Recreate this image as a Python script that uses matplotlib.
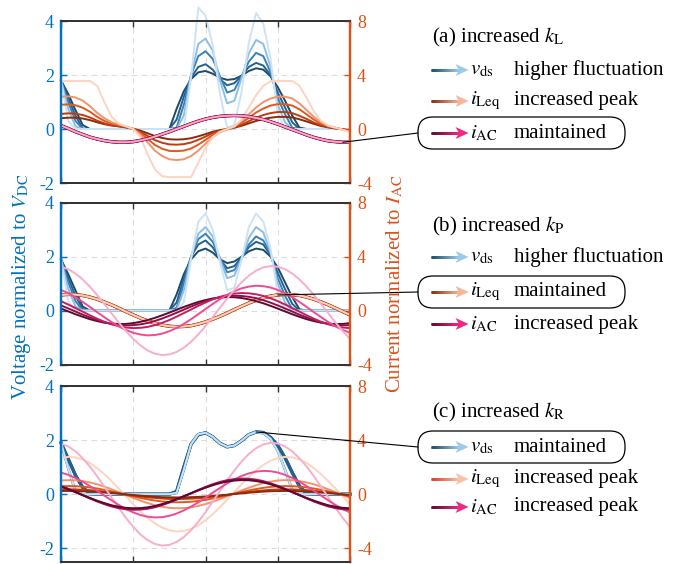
import numpy as np
import matplotlib.pyplot as plt
from matplotlib.collections import LineCollection
from matplotlib.patches import FancyBboxPatch, ConnectionPatch, Polygon
from matplotlib.colors import LinearSegmentedColormap

plt.rcParams['font.family'] = ['Liberation Serif', 'DejaVu Serif']
plt.rcParams['mathtext.fontset'] = 'stix'
plt.rcParams['axes.unicode_minus'] = False

# one window of the waveforms, sampled every 1/40 of the window
t = np.linspace(0, 1, 41)

# ---- (a) increased k_L ------------------------------------------------
# v_ds, normalised to V_DC (dark -> light)
vds_a = [
    [1.8, 1.3, 0.7, 0.15, 0, 0, 0, 0, 0, 0, 0, 0, 0, 0, 0, 0,
     0.75, 1.4, 1.85, 2.1, 2.15, 2.05, 1.9, 1.82, 1.85, 1.98, 2.15, 2.25, 2.2, 1.95, 1.55, 1.05, 0.5, 0.05,
     0, 0, 0, 0, 0, 0, 0],
    [1.8, 1.15, 0.5, 0.02, 0, 0, 0, 0, 0, 0, 0, 0, 0, 0, 0, 0,
     0.35, 1.2, 1.9, 2.3, 2.4, 2.2, 1.85, 1.62, 1.7, 1.98, 2.3, 2.45, 2.35, 2.0, 1.35, 0.8, 0.25, 0,
     0, 0, 0, 0, 0, 0, 0],
    [1.8, 1.0, 0.3, 0, 0, 0, 0, 0, 0, 0, 0, 0, 0, 0, 0, 0,
     0.05, 0.9, 2.0, 2.7, 2.88, 2.6, 1.95, 1.35, 1.45, 1.95, 2.5, 2.82, 2.7, 2.1, 1.15, 0.55, 0.05, 0,
     0, 0, 0, 0, 0, 0, 0],
    [1.8, 0.75, 0.1, 0, 0, 0, 0, 0, 0, 0, 0, 0, 0, 0, 0, 0,
     0, 0.5, 2.0, 3.15, 3.35, 2.9, 1.8, 0.95, 1.05, 1.9, 2.8, 3.3, 3.15, 2.3, 0.9, 0.25, 0, 0,
     0, 0, 0, 0, 0, 0, 0],
    [1.8, 0.3, 0, 0, 0, 0, 0, 0, 0, 0, 0, 0, 0, 0, 0, 0,
     0, 0.05, 1.9, 4.5, 4.2, 3.1, 1.3, 0.05, 0.15, 1.4, 3.2, 4.3, 3.9, 2.6, 0.6, 0, 0, 0,
     0, 0, 0, 0, 0, 0, 0],
]
# i_Leq, normalised to I_AC
ileq_a = [
    [0.8, 0.84, 0.84, 0.78, 0.66, 0.5, 0.36, 0.26, 0.2, 0.12, 0.02, -0.12, -0.32, -0.52, -0.66, -0.76, -0.78,
     -0.76, -0.68, -0.54, -0.38, -0.2, -0.08, 0.0, 0.1, 0.24, 0.42, 0.6, 0.74, 0.84, 0.9, 0.9, 0.86, 0.72,
     0.56, 0.38, 0.22, 0.12, 0.04, -0.02, -0.1],
    [1.12, 1.16, 1.14, 1.04, 0.86, 0.62, 0.42, 0.28, 0.2, 0.12, 0.0, -0.22, -0.52, -0.82, -1.02, -1.14, -1.16,
     -1.12, -1.0, -0.8, -0.56, -0.3, -0.12, -0.02, 0.12, 0.32, 0.58, 0.84, 1.04, 1.18, 1.26, 1.26, 1.18, 0.98,
     0.74, 0.48, 0.28, 0.14, 0.06, -0.02, -0.12],
    [1.8, 1.82, 1.76, 1.58, 1.28, 0.9, 0.6, 0.4, 0.28, 0.16, 0.0, -0.3, -0.74, -1.18, -1.46, -1.62, -1.64,
     -1.6, -1.44, -1.16, -0.8, -0.44, -0.18, -0.02, 0.16, 0.46, 0.84, 1.22, 1.52, 1.74, 1.84, 1.84, 1.74, 1.46,
     1.08, 0.7, 0.38, 0.18, 0.08, -0.04, -0.16],
    [2.4, 2.42, 2.34, 2.1, 1.7, 1.2, 0.8, 0.5, 0.34, 0.2, 0.0, -0.4, -1.0, -1.6, -2.0, -2.24, -2.3,
     -2.24, -2.0, -1.6, -1.1, -0.6, -0.24, -0.04, 0.2, 0.6, 1.1, 1.6, 2.0, 2.26, 2.4, 2.4, 2.26, 1.9,
     1.4, 0.9, 0.5, 0.24, 0.1, -0.06, -0.2],
    [3.56, 3.56, 3.56, 3.56, 3.56, 3.2, 2.0, 0.9, 0.4, 0.2, 0.0, -0.6, -1.9, -3.0, -3.5, -3.56, -3.56,
     -3.56, -3.56, -2.5, -1.4, -0.6, -0.2, 0.0, 0.2, 0.7, 1.6, 2.5, 3.2, 3.54, 3.56, 3.56, 3.56, 3.2,
     2.3, 1.3, 0.6, 0.24, 0.1, -0.06, -0.24],
]
# i_AC, the same for all five cases
iac_a = [0.26, 0.04, -0.2, -0.4, -0.6, -0.74, -0.86, -0.94, -0.98, -0.98, -0.94, -0.84, -0.72, -0.56,
         -0.38, -0.2, 0.0, 0.2, 0.4, 0.58, 0.74, 0.86, 0.94, 0.98, 1.0, 0.98, 0.92, 0.82, 0.7, 0.54,
         0.36, 0.16, -0.04, -0.24, -0.44, -0.62, -0.76, -0.88, -0.94, -0.98, -0.98]

# ---- (b) increased k_P ------------------------------------------------
vds_b = [
    [1.9, 1.35, 0.75, 0.15, 0, 0, 0, 0, 0, 0, 0, 0, 0, 0, 0, 0,
     0.6, 1.35, 1.9, 2.2, 2.3, 2.15, 1.9, 1.76, 1.82, 2.0, 2.2, 2.3, 2.25, 2.0, 1.6, 1.05, 0.5, 0.05,
     0, 0, 0, 0, 0, 0, 0],
    [1.9, 1.2, 0.55, 0.05, 0, 0, 0, 0, 0, 0, 0, 0, 0, 0, 0, 0,
     0.3, 1.2, 2.0, 2.45, 2.6, 2.35, 1.9, 1.57, 1.65, 1.98, 2.35, 2.55, 2.45, 2.05, 1.4, 0.8, 0.25, 0,
     0, 0, 0, 0, 0, 0, 0],
    [1.9, 1.05, 0.35, 0, 0, 0, 0, 0, 0, 0, 0, 0, 0, 0, 0, 0,
     0.1, 1.0, 2.0, 2.65, 2.85, 2.55, 1.95, 1.42, 1.5, 1.95, 2.45, 2.75, 2.6, 2.1, 1.2, 0.55, 0.05, 0,
     0, 0, 0, 0, 0, 0, 0],
    [1.9, 0.8, 0.15, 0, 0, 0, 0, 0, 0, 0, 0, 0, 0, 0, 0, 0,
     0.02, 0.75, 2.0, 2.85, 3.1, 2.75, 1.9, 1.2, 1.3, 1.95, 2.7, 3.1, 2.9, 2.15, 1.0, 0.3, 0, 0,
     0, 0, 0, 0, 0, 0, 0],
    [1.9, 0.35, 0, 0, 0, 0, 0, 0, 0, 0, 0, 0, 0, 0, 0, 0,
     0, 0.3, 1.9, 3.3, 3.6, 3.0, 1.8, 0.75, 0.85, 1.9, 3.1, 3.6, 3.3, 2.3, 0.6, 0, 0, 0,
     0, 0, 0, 0, 0, 0, 0],
]
ileq_b = [1.16, 1.2, 1.18, 1.12, 1.0, 0.84, 0.64, 0.42, 0.18, -0.08, -0.32, -0.56, -0.76, -0.94, -1.08,
          -1.16, -1.2, -1.18, -1.12, -1.0, -0.84, -0.64, -0.42, -0.18, 0.08, 0.32, 0.56, 0.76, 0.94, 1.08,
          1.16, 1.2, 1.18, 1.12, 1.0, 0.84, 0.64, 0.42, 0.18, -0.08, -0.32]
iac_b = [
    [0.15, -0.06, -0.27, -0.46, -0.64, -0.78, -0.9, -0.97, -1.0, -0.99, -0.93, -0.83, -0.7, -0.54, -0.35,
     -0.15, 0.06, 0.27, 0.46, 0.64, 0.78, 0.9, 0.97, 1.0, 0.99, 0.93, 0.83, 0.7, 0.54, 0.35,
     0.15, -0.06, -0.27, -0.46, -0.64, -0.78, -0.9, -0.97, -1.0, -0.99, -0.93],
    [0.38, 0.16, -0.07, -0.3, -0.51, -0.7, -0.86, -0.99, -1.07, -1.1, -1.08, -1.02, -0.92, -0.77, -0.59,
     -0.38, -0.16, 0.07, 0.3, 0.51, 0.7, 0.86, 0.99, 1.07, 1.1, 1.08, 1.02, 0.92, 0.77, 0.59,
     0.38, 0.16, -0.07, -0.3, -0.51, -0.7, -0.86, -0.99, -1.07, -1.1, -1.08],
    [0.7, 0.45, 0.19, -0.08, -0.35, -0.6, -0.83, -1.02, -1.16, -1.26, -1.3, -1.28, -1.21, -1.08, -0.91,
     -0.7, -0.45, -0.19, 0.08, 0.35, 0.6, 0.83, 1.02, 1.16, 1.26, 1.3, 1.28, 1.21, 1.08, 0.91,
     0.7, 0.45, 0.19, -0.08, -0.35, -0.6, -0.83, -1.02, -1.16, -1.26, -1.3],
    [1.53, 1.29, 0.99, 0.64, 0.27, -0.12, -0.49, -0.85, -1.17, -1.44, -1.65, -1.78, -1.84, -1.81, -1.71,
     -1.53, -1.29, -0.99, -0.64, -0.27, 0.12, 0.49, 0.85, 1.17, 1.44, 1.65, 1.78, 1.84, 1.81, 1.71,
     1.53, 1.29, 0.99, 0.64, 0.27, -0.12, -0.49, -0.85, -1.17, -1.44, -1.65],
    [3.25, 3.07, 2.75, 2.31, 1.77, 1.15, 0.48, -0.21, -0.89, -1.53, -2.1, -2.59, -2.96, -3.2, -3.3,
     -3.25, -3.07, -2.75, -2.31, -1.77, -1.15, -0.48, 0.21, 0.89, 1.53, 2.1, 2.59, 2.96, 3.2, 3.3,
     3.25, 3.07, 2.75, 2.31, 1.77, 1.15, 0.48, -0.21, -0.89, -1.53, -2.1],
]

# ---- (c) increased k_R ------------------------------------------------
vds_c_dark = [1.9, 1.3, 0.7, 0.25, 0.02, 0, 0, 0, 0, 0, 0, 0, 0, 0, 0, 0,
              0.1, 1.0, 1.85, 2.2, 2.27, 2.12, 1.88, 1.75, 1.8, 1.98, 2.2, 2.3, 2.28, 2.1, 1.8, 1.35, 0.8, 0.3,
              0.02, 0, 0, 0, 0, 0, 0]
vds_c_light = [1.9, 0.95, 0.1, 0, 0, 0, 0, 0, 0, 0, 0, 0, 0, 0, 0, 0,
               0.05, 0.9, 1.85, 2.22, 2.27, 2.12, 1.88, 1.75, 1.8, 1.98, 2.2, 2.3, 2.25, 2.05, 1.6, 0.9, 0.15, 0,
               0, 0, 0, 0, 0, 0, 0]
ileq_c = [
    [0.23, 0.24, 0.24, 0.22, 0.2, 0.17, 0.13, 0.08, 0.04, -0.02, -0.06, -0.11, -0.15, -0.19, -0.22,
     -0.23, -0.24, -0.24, -0.22, -0.2, -0.17, -0.13, -0.08, -0.04, 0.02, 0.06, 0.11, 0.15, 0.19, 0.22,
     0.23, 0.24, 0.24, 0.22, 0.2, 0.17, 0.13, 0.08, 0.04, -0.02, -0.06],
    [0.35, 0.36, 0.35, 0.33, 0.3, 0.25, 0.19, 0.13, 0.05, -0.02, -0.1, -0.17, -0.23, -0.28, -0.32,
     -0.35, -0.36, -0.35, -0.33, -0.3, -0.25, -0.19, -0.13, -0.05, 0.02, 0.1, 0.17, 0.23, 0.28, 0.32,
     0.35, 0.36, 0.35, 0.33, 0.3, 0.25, 0.19, 0.13, 0.05, -0.02, -0.1],
    [0.58, 0.6, 0.59, 0.56, 0.5, 0.42, 0.32, 0.21, 0.09, -0.04, -0.16, -0.28, -0.38, -0.47, -0.54,
     -0.58, -0.6, -0.59, -0.56, -0.5, -0.42, -0.32, -0.21, -0.09, 0.04, 0.16, 0.28, 0.38, 0.47, 0.54,
     0.58, 0.6, 0.59, 0.56, 0.5, 0.42, 0.32, 0.21, 0.09, -0.04, -0.16],
    [1.01, 1.04, 1.03, 0.97, 0.87, 0.73, 0.56, 0.36, 0.15, -0.07, -0.28, -0.48, -0.66, -0.82, -0.93,
     -1.01, -1.04, -1.03, -0.97, -0.87, -0.73, -0.56, -0.36, -0.15, 0.07, 0.28, 0.48, 0.66, 0.82, 0.93,
     1.01, 1.04, 1.03, 0.97, 0.87, 0.73, 0.56, 0.36, 0.15, -0.07, -0.28],
    [2.67, 2.76, 2.72, 2.57, 2.3, 1.93, 1.48, 0.96, 0.4, -0.17, -0.74, -1.28, -1.76, -2.16, -2.47,
     -2.67, -2.76, -2.72, -2.57, -2.3, -1.93, -1.48, -0.96, -0.4, 0.17, 0.74, 1.28, 1.76, 2.16, 2.47,
     2.67, 2.76, 2.72, 2.57, 2.3, 1.93, 1.48, 0.96, 0.4, -0.17, -0.74],
]
iac_c = [
    [0.56, 0.36, 0.15, -0.07, -0.28, -0.48, -0.66, -0.82, -0.93, -1.01, -1.04, -1.03, -0.97, -0.87, -0.73,
     -0.56, -0.36, -0.15, 0.07, 0.28, 0.48, 0.66, 0.82, 0.93, 1.01, 1.04, 1.03, 0.97, 0.87, 0.73,
     0.56, 0.36, 0.15, -0.07, -0.28, -0.48, -0.66, -0.82, -0.93, -1.01, -1.04],
    [0.59, 0.38, 0.16, -0.07, -0.3, -0.51, -0.7, -0.86, -0.99, -1.07, -1.1, -1.08, -1.02, -0.92, -0.77,
     -0.59, -0.38, -0.16, 0.07, 0.3, 0.51, 0.7, 0.86, 0.99, 1.07, 1.1, 1.08, 1.02, 0.92, 0.77,
     0.59, 0.38, 0.16, -0.07, -0.3, -0.51, -0.7, -0.86, -0.99, -1.07, -1.1],
    [0.62, 0.4, 0.17, -0.07, -0.31, -0.54, -0.74, -0.91, -1.04, -1.12, -1.16, -1.14, -1.08, -0.97, -0.81,
     -0.62, -0.4, -0.17, 0.07, 0.31, 0.54, 0.74, 0.91, 1.04, 1.12, 1.16, 1.14, 1.08, 0.97, 0.81,
     0.62, 0.4, 0.17, -0.07, -0.31, -0.54, -0.74, -0.91, -1.04, -1.12, -1.16],
    [1.6, 1.43, 1.2, 0.92, 0.6, 0.25, -0.11, -0.46, -0.8, -1.1, -1.35, -1.54, -1.67, -1.72, -1.7,
     -1.6, -1.43, -1.2, -0.92, -0.6, -0.25, 0.11, 0.46, 0.8, 1.1, 1.35, 1.54, 1.67, 1.72, 1.7,
     1.6, 1.43, 1.2, 0.92, 0.6, 0.25, -0.11, -0.46, -0.8, -1.1, -1.35],
    [3.75, 3.53, 3.17, 2.66, 2.04, 1.33, 0.55, -0.24, -1.02, -1.76, -2.42, -2.98, -3.4, -3.68, -3.8,
     -3.75, -3.53, -3.17, -2.66, -2.04, -1.33, -0.55, 0.24, 1.02, 1.76, 2.42, 2.98, 3.4, 3.68, 3.8,
     3.75, 3.53, 3.17, 2.66, 2.04, 1.33, 0.55, -0.24, -1.02, -1.76, -2.42],
]

titles = [r'(a) increased $k_{\mathrm{L}}$', r'(b) increased $k_{\mathrm{P}}$', r'(c) increased $k_{\mathrm{R}}$']
symbols = [r'$v_{\mathrm{ds}}$', r'$i_{\mathrm{Leq}}$', r'$i_{\mathrm{AC}}$']
notes = [['higher fluctuation', 'increased peak', 'maintained'],
         ['higher fluctuation', 'maintained', 'increased peak'],
         ['maintained', 'increased peak', 'increased peak']]
boxed_row = [2, 1, 0]

blue_ax = '#0072BD'
orange_ax = '#D95319'
blues = ['#1b4a6b', '#23618f', '#3a80b8', '#8dbfe2', '#cde3f3']
oranges = ['#8a2b0c', '#c23b0f', '#e2571e', '#f3926d', '#fcd4c0']
pinks = ['#5e0a30', '#8e1048', '#c41e62', '#ee4b94', '#f7aecb']

fig = plt.figure(figsize=(6.87, 5.64), dpi=100)
H = 5.64
pos = [[0.0888, 0.6755, 0.4207, 0.2872],
       [0.0888, 0.3537, 0.4207, 0.2869],
       [0.0888, 0.0039, 0.4207, 0.3117]]
ylims = [(-2, 4), (-2, 4), (-2.5, 4)]

panels = [
    (vds_a, ileq_a, [iac_a] * 5),
    (vds_b, [ileq_b] * 5, iac_b),
    ([vds_c_dark, vds_c_dark, vds_c_light, vds_c_light, vds_c_light], ileq_c, iac_c),
]
maintained_w = [2.4, 2.1, 1.8, 1.5, 1.2]

axes = []
for p, (vds, ileq, iac) in enumerate(panels):
    ax = fig.add_axes(pos[p])
    ax2 = ax.twinx()
    axes.append((ax, ax2))
    same_v = p == 2
    same_l = p == 1
    same_a = p == 0
    for k in range(5):
        ax.plot(t, vds[k], color=blues[k], lw=maintained_w[k] if same_v else 1.4, clip_on=False)
    order = range(5) if p < 2 else range(4, -1, -1)
    for k in order:
        ax2.plot(t, ileq[k], color=oranges[k], lw=maintained_w[k] if same_l else 1.4)
    for k in order:
        ax2.plot(t, iac[k], color=pinks[k], lw=maintained_w[k] if same_a else 1.4)

    ax.set_xlim(0, 1)
    ax.set_ylim(*ylims[p])
    ax2.set_ylim(ylims[p][0] * 2, ylims[p][1] * 2)
    ax.set_xticks([0, 0.25, 0.5, 0.75, 1])
    ax.set_xticklabels([])
    ax.set_yticks([-2, 0, 2, 4])
    ax.set_yticklabels(['-2', '0', '2', '4'], fontfamily='Liberation Serif')
    ax2.set_yticks([-4, 0, 4, 8])
    ax2.set_yticklabels(['-4', '0', '4', '8'], fontfamily='Liberation Serif')
    ax.grid(True, ls=(0, (5, 4)), color='#dcdcdc', lw=0.8)
    ax.set_axisbelow(True)
    ax.tick_params(axis='x', direction='in', top=True, length=4, width=1, color='#333333')
    ax.tick_params(axis='y', direction='in', length=4, width=1, colors=blue_ax, labelsize=13, pad=5)
    ax2.tick_params(axis='y', direction='in', length=4, width=1, colors=orange_ax, labelsize=13, pad=5)
    for a in (ax, ax2):
        for s in ('top', 'bottom'):
            a.spines[s].set_color('#333333')
            a.spines[s].set_linewidth(1.3)
        a.spines['left'].set_color(blue_ax)
        a.spines['left'].set_linewidth(1.6)
        a.spines['right'].set_color(orange_ax)
        a.spines['right'].set_linewidth(1.6)

fig.text(0.22, H - 2.87, r'Voltage normalized to $V_{\mathrm{DC}}$', rotation=90, color=blue_ax,
         fontsize=15, ha='center', va='center', transform=fig.dpi_scale_trans)
fig.text(3.95, H - 2.84, r'Current normalized to $I_{\mathrm{AC}}$', rotation=90, color=orange_ax,
         fontsize=15, ha='center', va='center', transform=fig.dpi_scale_trans)

# right-hand legend blocks (pixel rows of the reference)
title_y = [37, 226, 412]
row_y = [[70, 101, 133], [257, 292, 324], [447, 479, 507]]
arrow_cols = [[('#1b4a6b', '#9ccbea'), ('#8a2b0c', '#f7b59a'), ('#5a0b2e', '#f0287f')],
              [('#1b4a6b', '#9ccbea'), ('#8a2b0c', '#f7b59a'), ('#5a0b2e', '#f0287f')],
              [('#1b4a6b', '#9ccbea'), ('#d9411a', '#f9c2a8'), ('#5a0b2e', '#f0287f')]]


def grad_arrow(y, c0, c1):
    cmap = LinearSegmentedColormap.from_list('g', [c0, c1])
    xs = np.linspace(4.32, 4.60, 29)
    segs = [[(xs[i], y), (xs[i + 1], y)] for i in range(len(xs) - 1)]
    lc = LineCollection(segs, colors=cmap(np.linspace(0, 1, len(segs))), lw=1.8,
                        capstyle='projecting', transform=fig.dpi_scale_trans)
    fig.add_artist(lc)
    head = Polygon([(4.685, y), (4.555, y + 0.06), (4.59, y), (4.555, y - 0.06)], closed=True,
                   fc=c1, ec='none', transform=fig.dpi_scale_trans)
    fig.add_artist(head)


targets = [
    (axes[0][1], t[39], iac_a[39]),
    (axes[1][1], t[30], ileq_b[30]),
    (axes[2][0], t[27], vds_c_dark[27]),
]

for p in range(3):
    fig.text(4.32, H - title_y[p] / 100, titles[p], fontsize=15, ha='left', va='center',
             transform=fig.dpi_scale_trans)
    for r in range(3):
        y = H - row_y[p][r] / 100
        grad_arrow(y, *arrow_cols[p][r])
        fig.text(4.70, y, symbols[r], fontsize=15, ha='left', va='center', transform=fig.dpi_scale_trans)
        fig.text(5.14, y, notes[p][r], fontsize=15, ha='left', va='center', transform=fig.dpi_scale_trans)
    yb = H - row_y[p][boxed_row[p]] / 100
    box = FancyBboxPatch((4.18, yb - 0.16), 2.07, 0.32, boxstyle='round,pad=0,rounding_size=0.15',
                         fc='none', ec='black', lw=0.9, transform=fig.dpi_scale_trans)
    fig.add_artist(box)
    tax, tx, ty = targets[p]
    con = ConnectionPatch(xyA=(tx, ty), coordsA=tax.transData, xyB=(4.18, yb),
                          coordsB=fig.dpi_scale_trans, color='black', lw=0.8)
    fig.add_artist(con)

plt.savefig('out.png', dpi=100)
